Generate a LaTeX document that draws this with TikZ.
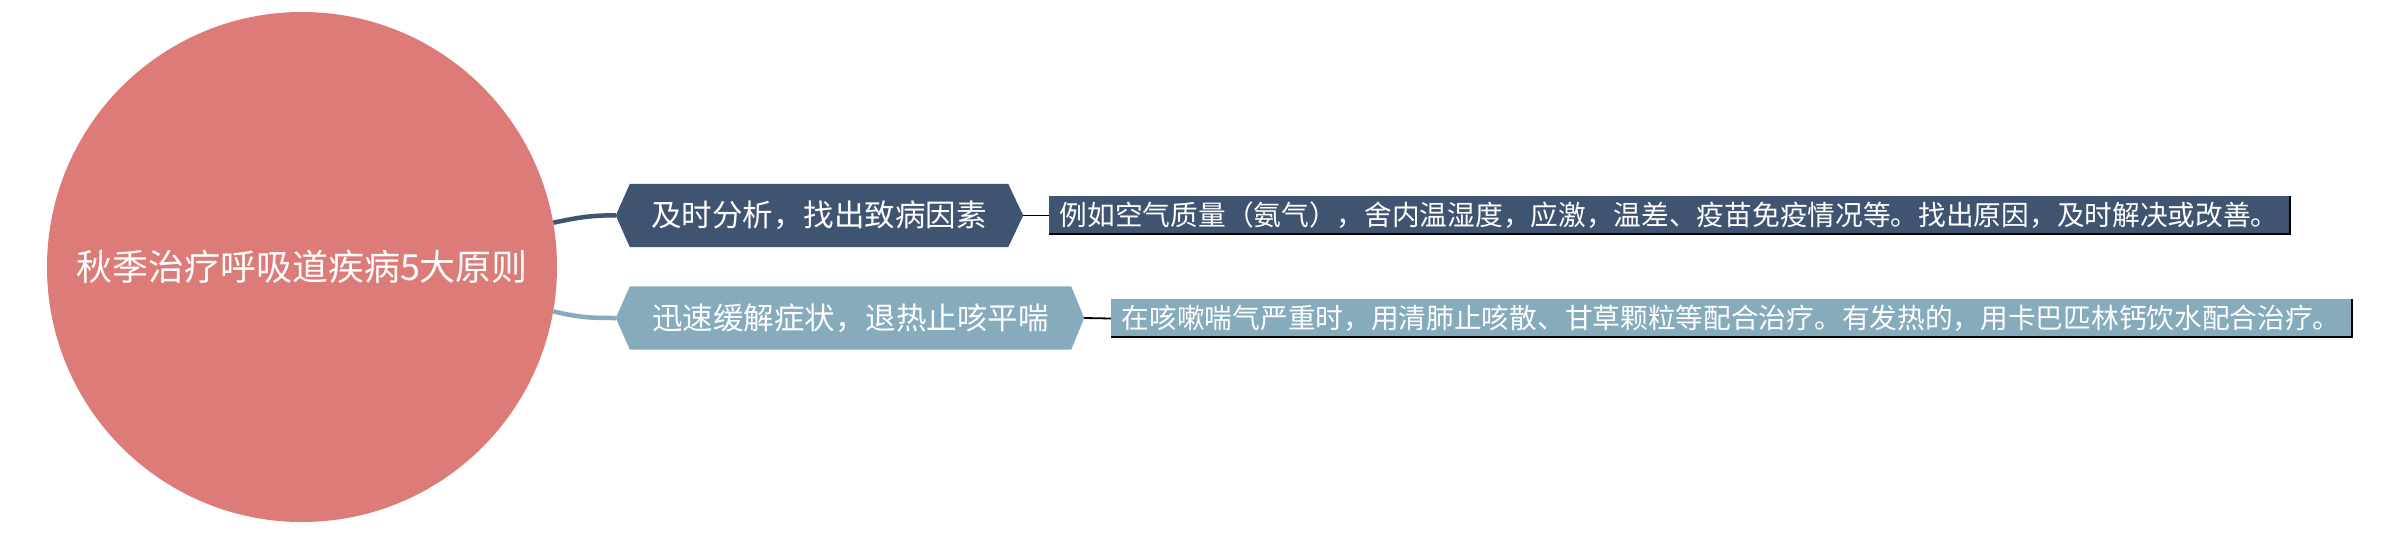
\documentclass[tikz,border=0pt]{standalone}
\usepackage{fontspec}
\setmainfont{Noto Sans CJK SC}
\definecolor{rootc}{HTML}{DC7B77}
\definecolor{darkc}{HTML}{3E5470}
\definecolor{lightc}{HTML}{85ABBC}
\pgfdeclarelayer{background}
\pgfsetlayers{background,main}
\tikzset{
  rootnode/.style={circle, fill=rootc, minimum size=510pt, inner sep=0pt, text=white,
    font=\fontsize{36}{36}\selectfont},
  hexnode/.style={rectangle, minimum height=63pt, inner sep=0pt, text=white,
    font=\fontsize{30.5}{31}\selectfont},
  descbox/.style={rectangle, minimum height=39pt, minimum width=1240pt, inner sep=0pt,
    text=white, anchor=west, font=\fontsize{27.7}{28}\selectfont},
  trunk/.style={line width=4.5pt},
  twig/.style={draw=black, line width=1.8pt},
  edgeline/.style={draw=black, line width=2pt},
}
\begin{document}
\begin{tikzpicture}[x=1pt,y=-1pt]
\useasboundingbox (0,0) rectangle (2395,533);
% root
\node[rootnode] (root) at (302,267) {秋季治疗呼吸道疾病5大原则};
% hexagon nodes (flat part)
\node[hexnode, minimum width=378pt] (h1) at (819,215.5) {及时分析，找出致病因素};
\node[hexnode, minimum width=441pt] (h2) at (850.5,318) {迅速缓解症状，退热止咳平喘};
\coordinate (h1w) at ([xshift=-14pt]h1.west);
\coordinate (h1e) at ([xshift=15pt]h1.east);
\coordinate (h2w) at ([xshift=-14pt]h2.west);
\coordinate (h2e) at ([xshift=13pt]h2.east);
\begin{pgfonlayer}{background}
\fill[darkc] (h1.north west) -- (h1.north east) -- (h1e) -- (h1.south east) -- (h1.south west) -- (h1w) -- cycle;
\fill[lightc] (h2.north west) -- (h2.north east) -- (h2e) -- (h2.south east) -- (h2.south west) -- (h2w) -- cycle;
\end{pgfonlayer}
% description boxes
\node[descbox, fill=darkc] (b1) at (1049,215.5)
  {例如空气质量（氨气），舍内温湿度，应激，温差、疫苗免疫情况等。找出原因，及时解决或改善。};
\node[descbox, fill=lightc] (b2) at (1111,318.5)
  {在咳嗽喘气严重时，用清肺止咳散、甘草颗粒等配合治疗。有发热的，用卡巴匹林钙饮水配合治疗。};
\draw[edgeline] ([yshift=1pt]b1.south west) -- ([xshift=1pt,yshift=1pt]b1.south east) -- ([xshift=1pt]b1.north east);
\draw[edgeline] ([yshift=1pt]b2.south west) -- ([xshift=1pt,yshift=1pt]b2.south east) -- ([xshift=1pt]b2.north east);
% connectors
\draw[trunk, darkc] (root.10) .. controls (580,217) and (595,215) .. (h1w);
\draw[trunk, lightc] (root.-10) .. controls (580,318) and (595,318) .. (h2w);
\draw[twig] (h1e) -- (b1.west);
\draw[twig] (h2e) -- (b2.west);
\end{tikzpicture}
\end{document}
